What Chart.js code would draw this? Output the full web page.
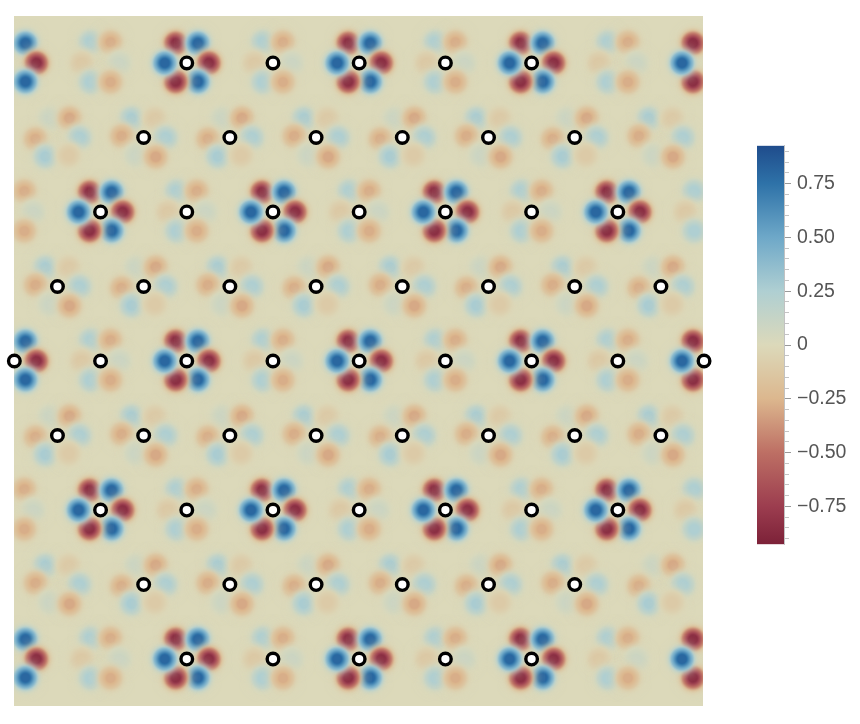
<!DOCTYPE html>
<html>
<head>
<meta charset="utf-8">
<title>Lattice field</title>
<script src="https://cdn.jsdelivr.net/npm/chart.js@4/dist/chart.umd.min.js"></script>
<style>
  html, body { margin: 0; padding: 0; background: #fff; }
  #fieldChart { position: absolute; left: 0; top: 0; }
  #barChart { position: absolute; left: 740px; top: 128px; }
</style>
</head>
<body>
<canvas id="fieldChart" width="720" height="724"></canvas>
<canvas id="barChart" width="120" height="434"></canvas>
<script>
// lattice sites, marked with the open circles (row -> columns)
const markerRows = [0, 1, 2, 3, 4, 5, 6, 7, 8];
const markerCols = [
  [2, 3, 4, 5, 6],
  [1.5, 2.5, 3.5, 4.5, 5.5, 6.5],
  [1, 2, 3, 4, 5, 6, 7],
  [0.5, 1.5, 2.5, 3.5, 4.5, 5.5, 6.5, 7.5],
  [0, 1, 2, 3, 4, 5, 6, 7, 8],
  [0.5, 1.5, 2.5, 3.5, 4.5, 5.5, 6.5, 7.5],
  [1, 2, 3, 4, 5, 6, 7],
  [1.5, 2.5, 3.5, 4.5, 5.5, 6.5],
  [2, 3, 4, 5, 6],
];

// lobes around a site: [column offset, row offset, field value]
const strongLobes = [
  [-0.128, -0.265, -0.85], [0.128, -0.265, 0.8], [0.256, 0, -0.85],
  [0.128, 0.25, 0.8], [-0.128, 0.25, -0.85], [-0.256, 0, 0.8],
];
const faintLobes = [
  [-0.116, -0.28, 0.25], [0.116, -0.28, -0.28], [-0.22, 0, -0.12],
  [0.22, 0, 0.09], [-0.116, 0.255, 0.25], [0.116, 0.255, -0.28],
];
const tiltLobesA = [
  [-0.14, -0.255, 0.27], [0.13, -0.255, -0.11], [-0.256, -0.02, -0.28],
  [0.256, 0, 0.25], [-0.09, 0.24, 0.09], [0.14, 0.26, -0.3],
];
const tiltLobesB = [
  [-0.09, -0.255, 0.09], [0.14, -0.26, -0.3], [-0.256, 0.02, -0.28],
  [0.256, 0, 0.25], [-0.14, 0.255, 0.27], [0.13, 0.24, -0.11],
];

// which lobe set sits where
const evenCols = [0, 2, 4, 6, 8];
const oddCols = [1, 3, 5, 7];
const halfColsA = [-0.5, 1.5, 3.5, 5.5, 7.5];
const halfColsB = [0.5, 2.5, 4.5, 6.5, 8.5];
const motifSites = [
  [strongLobes, [0, 4, 8], evenCols],
  [strongLobes, [2, 6], oddCols],
  [faintLobes, [0, 4, 8], oddCols],
  [faintLobes, [2, 6], evenCols],
  [tiltLobesA, [-1, 3, 7], halfColsB],
  [tiltLobesA, [1, 5, 9], halfColsA],
  [tiltLobesB, [-1, 3, 7], halfColsA],
  [tiltLobesB, [1, 5, 9], halfColsB],
];

// colour bar
const colorLevels = [-0.926, -0.75, -0.5, -0.25, 0, 0.25, 0.5, 0.75, 0.926];
const colorStops = ["#7c2138", "#9c3d4f", "#bd6f64", "#dcb78e", "#dcd9ba", "#afcfd2", "#6ea8c8", "#2e72a8", "#1f4c8c"];
const tickLevels = [0.75, 0.5, 0.25, 0, -0.25, -0.5, -0.75];
const tickLabels = ["0.75", "0.50", "0.25", "0", "\u22120.25", "\u22120.50", "\u22120.75"];
const minorLevels = [
  0.9, 0.85, 0.8, 0.7, 0.65, 0.6, 0.55, 0.45, 0.4, 0.35, 0.3, 0.2, 0.15, 0.1, 0.05,
  -0.05, -0.1, -0.15, -0.2, -0.3, -0.35, -0.4, -0.45, -0.55, -0.6, -0.65, -0.7, -0.8, -0.85, -0.9,
];

const fieldBackground = "#dcd9ba";

function hexToRgb(hex) {
  return [1, 3, 5].map((i) => parseInt(hex.slice(i, i + 2), 16));
}

function colorFor(value) {
  const v = Math.max(colorLevels[0], Math.min(colorLevels[8], value));
  let i = 0;
  while (i < 7 && v > colorLevels[i + 1]) i++;
  const t = (v - colorLevels[i]) / (colorLevels[i + 1] - colorLevels[i]);
  const a = hexToRgb(colorStops[i]);
  const b = hexToRgb(colorStops[i + 1]);
  return a.map((c, k) => c + (b[k] - c) * t);
}

// soft round blob for one lobe value, coloured through the colour bar
const spriteCache = {};
function lobeSprite(value) {
  if (spriteCache[value]) return spriteCache[value];
  const size = 48;
  const sigma = 8;
  const sprite = document.createElement("canvas");
  sprite.width = size;
  sprite.height = size;
  const c = sprite.getContext("2d");
  const img = c.createImageData(size, size);
  for (let py = 0; py < size; py++) {
    for (let px = 0; px < size; px++) {
      const dx = px + 0.5 - size / 2;
      const dy = py + 0.5 - size / 2;
      const g = Math.min(1, 1.15 * Math.exp(-(dx * dx + dy * dy) / (2 * sigma * sigma)));
      const rgb = colorFor(value * g);
      const k = (py * size + px) * 4;
      img.data[k] = rgb[0];
      img.data[k + 1] = rgb[1];
      img.data[k + 2] = rgb[2];
      img.data[k + 3] = 255 * Math.min(1, g / 0.45);
    }
  }
  c.putImageData(img, 0, 0);
  spriteCache[value] = sprite;
  return sprite;
}

const lobePoints = [];
motifSites.forEach(([lobes, rows, cols]) => {
  rows.forEach((row) => {
    cols.forEach((col) => {
      lobes.forEach(([dx, dy, v]) => {
        lobePoints.push({ x: col + dx, y: row + dy, v: v });
      });
    });
  });
});

const markerPoints = [];
markerRows.forEach((row) => {
  markerCols[row].forEach((col) => markerPoints.push({ x: col, y: row }));
});

// --- field background ---
const fieldFill = {
  id: "fieldFill",
  beforeDatasetsDraw(chart) {
    const { ctx, chartArea } = chart;
    ctx.save();
    ctx.fillStyle = fieldBackground;
    ctx.fillRect(chartArea.left, chartArea.top, chartArea.width, chartArea.height);
    ctx.restore();
  },
};

new Chart(document.getElementById("fieldChart"), {
  type: "scatter",
  plugins: [fieldFill],
  data: {
    datasets: [
      {
        label: "sites",
        data: markerPoints,
        clip: false,
        pointRadius: 5.8,
        pointBorderWidth: 3.4,
        pointBackgroundColor: "#ffffff",
        pointBorderColor: "#000000",
      },
      {
        label: "field",
        data: lobePoints,
        clip: 0,
        pointRadius: 1,
        pointStyle: (c) => lobeSprite(c.raw.v),
      },
    ],
  },
  options: {
    responsive: false,
    animation: false,
    layout: { padding: { left: 14, right: 17, top: 16, bottom: 18 } },
    plugins: { legend: { display: false }, tooltip: { enabled: false } },
    scales: {
      x: { type: "linear", display: false, min: -0.004, max: 7.988 },
      y: { type: "linear", display: false, min: -0.63, max: 8.63, reverse: true },
    },
  },
});

// --- colour bar ---
new Chart(document.getElementById("barChart"), {
  type: "bar",
  data: {
    labels: ["field"],
    datasets: [
      {
        data: [[colorLevels[0], colorLevels[8]]],
        barPercentage: 1,
        categoryPercentage: 1,
        backgroundColor(c) {
          const { ctx, chartArea } = c.chart;
          if (!chartArea) return colorStops[4];
          const grad = ctx.createLinearGradient(0, chartArea.bottom, 0, chartArea.top);
          colorLevels.forEach((level, i) => {
            grad.addColorStop((level - colorLevels[0]) / (colorLevels[8] - colorLevels[0]), colorStops[i]);
          });
          return grad;
        },
      },
    ],
  },
  options: {
    responsive: false,
    animation: false,
    layout: { padding: { left: 17, top: 14, bottom: 14 } },
    plugins: { legend: { display: false }, tooltip: { enabled: false } },
    scales: {
      x: { display: false },
      y: {
        position: "right",
        min: colorLevels[0],
        max: colorLevels[8],
        afterFit(scale) {
          scale.width = 76;
        },
        afterBuildTicks(scale) {
          scale.ticks = tickLevels.concat(minorLevels).sort((a, b) => b - a).map((value) => ({ value }));
        },
        border: { display: true, color: "rgba(120,120,120,0.45)" },
        grid: {
          drawOnChartArea: false,
          tickLength: 7,
          tickColor: (c) => (tickLevels.includes(c.tick.value) ? "#999999" : "#c4c4c4"),
          tickBorderDash: (c) => (tickLevels.includes(c.tick.value) ? [] : [4, 20]),
        },
        ticks: {
          autoSkip: false,
          maxRotation: 0,
          padding: 6,
          color: "#555555",
          font: { family: "'Liberation Sans', Arial, sans-serif", size: 19.5 },
          callback(value) {
            const i = tickLevels.indexOf(value);
            return i >= 0 ? tickLabels[i] : "";
          },
        },
      },
    },
  },
});
</script>
</body>
</html>
